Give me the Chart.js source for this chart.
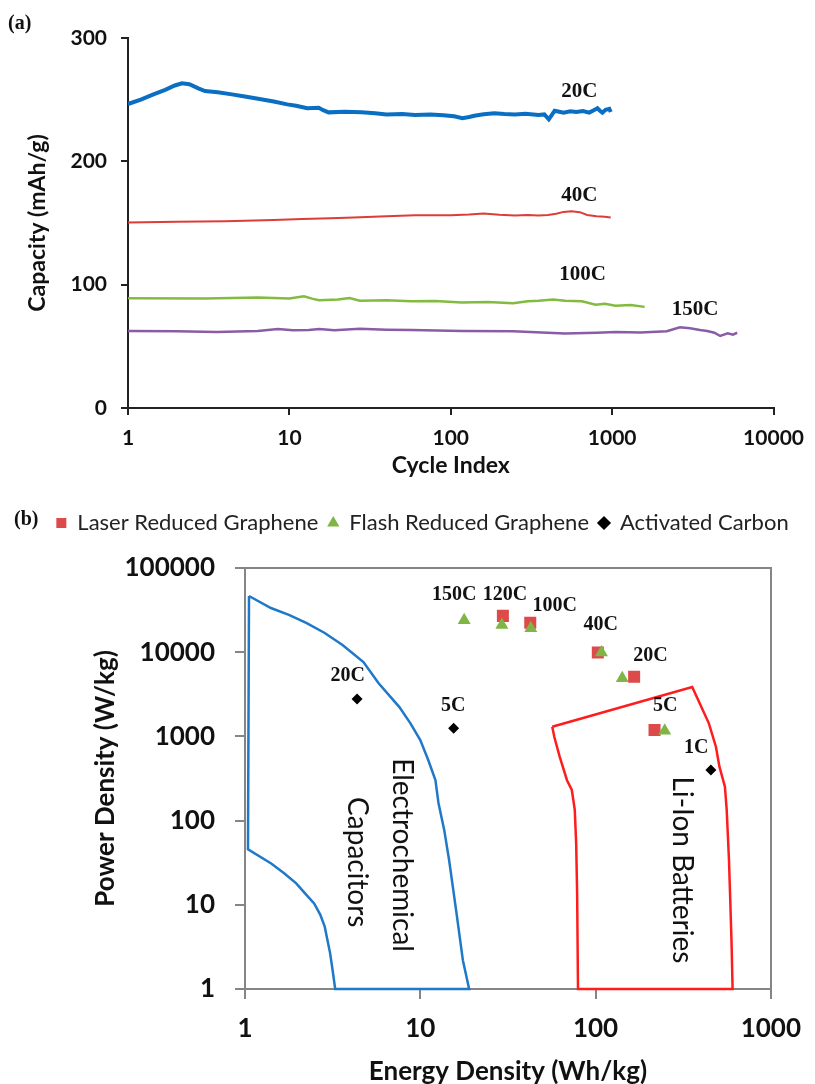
<!DOCTYPE html>
<html>
<head>
<meta charset="utf-8">
<script src="https://cdn.jsdelivr.net/npm/chart.js@4.4.0/dist/chart.umd.min.js"></script>
<style>
  html, body { margin: 0; padding: 0; background: #fff; }
  body { width: 815px; height: 1084px; position: relative; overflow: hidden; }
  .wrap { position: absolute; left: 0; width: 815px; }
  #wrapA { top: 0; height: 490px; }
  #wrapB { top: 490px; height: 594px; }
  .panel { position: absolute; font: bold 20px "Liberation Serif", serif; color: #111; }
</style>
</head>
<body>
<div class="wrap" id="wrapA"><canvas id="cycleChart" width="815" height="490"></canvas></div>
<div class="wrap" id="wrapB"><canvas id="ragoneChart" width="815" height="594"></canvas></div>
<div class="panel" style="left:8px;top:11px">(a)</div>
<div class="panel" style="left:14px;top:507px">(b)</div>
<script>
// ---- (a) capacity vs cycle index ----
const cycleTicks = [1, 10, 100, 1000, 10000];
const capTicks = [0, 100, 200, 300];

const cycles20 = [1, 1.2, 1.45, 1.7, 1.95, 2.16, 2.4, 2.75, 3.0, 3.6, 4.4, 5.3, 6.4, 8, 9.7, 11, 12.9, 15.2, 16.2, 17.5, 22, 28, 34, 40, 50, 60, 75, 90, 105, 118, 130, 140, 160, 186, 215, 250, 290, 350, 380, 405, 420, 440, 470, 500, 550, 600, 660, 720, 770, 810, 840, 870, 910, 960, 980];
const cap20 = [246.5, 250, 254.5, 258, 261.5, 263.3, 262.5, 259, 257, 256, 254.3, 252.5, 250.8, 248.5, 246.2, 245, 243, 243.5, 241.5, 239.7, 240.2, 239.7, 239, 238, 238.4, 237.6, 238, 237.4, 236.5, 235, 236, 237, 238.2, 239, 238.3, 238, 238.6, 237.5, 238, 234, 237, 241, 240.2, 239.5, 240.6, 240, 240.8, 239.5, 241.5, 243, 241, 239.5, 241.8, 242.5, 240];

const cycles40 = [1, 2, 4, 8, 12, 18, 25, 40, 60, 100, 130, 160, 200, 250, 300, 350, 400, 450, 500, 560, 630, 700, 800, 900, 980];
const cap40 = [150.5, 151, 151.5, 152.5, 153.2, 153.8, 154.5, 155.5, 156.2, 156.3, 156.8, 157.8, 156.6, 156, 156.4, 156, 156.5, 157.5, 159, 159.5, 158.8, 156.5, 155.5, 155, 154.5];

const cycles100 = [1, 3, 6.4, 10, 12.3, 14, 15.3, 20, 23.6, 27.3, 40, 57, 80, 117, 170, 243, 300, 350, 430, 510, 650, 790, 900, 1050, 1300, 1590];
const cap100 = [89, 88.8, 89.5, 88.8, 90.5, 88.5, 87.3, 88, 89.2, 87, 87.3, 86.5, 86.8, 85.5, 86, 85, 86.5, 87, 88, 87, 86.5, 83.7, 84.5, 83, 83.5, 82];

const cycles150 = [1, 2, 3.55, 6.37, 8.5, 10.5, 13.2, 15.3, 19, 27.3, 40, 57, 117, 243, 510, 800, 1050, 1500, 2180, 2630, 3040, 3500, 3880, 4300, 4670, 5200, 5600, 5950];
const cap150 = [62.4, 62.2, 61.6, 62.4, 64, 63, 63.2, 64, 63, 64.3, 63.5, 63.2, 62.4, 62.2, 60.5, 61, 61.6, 61.2, 62.2, 65.4, 64.6, 63.2, 62.4, 61, 58.4, 60.5, 59.5, 61];

// rate labels: [text, cycle, capacity]
const rateLabelsA = [['20C', 626, 256.5], ['40C', 626, 172], ['100C', 656, 107.8], ['150C', 3270, 79.5]];

// ---- (b) Ragone plot ----
const energyTicks = [1, 10, 100, 1000];
const powerTicks = [1, 10, 100, 1000, 10000, 100000];

const laserEnergy = [29.6, 42.4, 103, 166, 217];
const laserPower = [27000, 22400, 9900, 5100, 1190];
const flashEnergy = [17.8, 29.2, 42.7, 108, 142, 248];
const flashPower = [24000, 21000, 19200, 9900, 4900, 1170];
const carbonEnergy = [4.36, 15.5, 455];
const carbonPower = [2780, 1250, 400];

const capacitorEnergy = [1.054, 1.405, 1.78, 2.25, 2.85, 3.6, 4.74, 5.77, 7.6, 8.77, 10.0, 11.1, 12.2, 12.7, 13.7, 14.6, 16.0, 17.5, 19.0,
  3.27, 3.16, 3.06, 2.85, 2.69, 2.48, 2.22, 1.96, 1.665, 1.41, 1.04, 1.054];
const capacitorPower = [46500, 33500, 27700, 22200, 16900, 12200, 7650, 4300, 2230, 1440, 906, 525, 303, 162, 77, 34, 8.7, 2.2, 1.0,
  1.0, 1.68, 2.65, 5.5, 7.6, 10.4, 13.4, 18, 23.9, 31, 45.6, 46500];
const batteryEnergy = [56.6, 356, 385, 443, 486, 509, 547, 560, 577, 585, 597, 605,
  79.4, 78.5, 77.5, 76.1, 73.2, 68.7, 62.4, 58.2, 56.6];
const batteryPower = [1300, 3860, 2700, 1430, 755, 437, 253, 134, 34, 13.8, 3.5, 1,
  1, 13.7, 54, 134, 231, 302, 575, 983, 1300];

const rateLabelsB = [['150C', 15.6, 47700], ['120C', 30.4, 47700], ['100C', 58.5, 36000], ['40C', 107, 21000],
  ['20C', 206, 9000], ['5C', 250, 2290], ['1C', 375, 740], ['20C', 3.85, 5250], ['5C', 15.4, 2290]];
// rotated region names: [text, energy, power]
const regionLabels = [['Electrochemical', 7.9, 39], ['Capacitors', 4.33, 32], ['Li-Ion Batteries', 312, 25.9]];

const toXY = (xs, ys) => xs.map((v, i) => ({ x: v, y: ys[i] }));

Chart.defaults.font.family = 'Lato, "Open Sans", sans-serif';
Chart.defaults.color = '#111';
Chart.defaults.animation = false;

const textPlugin = {
  id: 'textPlugin',
  afterDatasetsDraw(chart, args, opts) {
    const { ctx } = chart;
    const x = chart.scales.x, y = chart.scales.y;
    ctx.save();
    ctx.fillStyle = '#111';
    ctx.textAlign = 'center';
    ctx.textBaseline = 'middle';
    ctx.font = opts.font;
    opts.items.forEach(([t, xv, yv]) => {
      ctx.fillText(t, x.getPixelForValue(xv), y.getPixelForValue(yv));
    });
    if (opts.rotated) {
      ctx.font = opts.rotatedFont;
      opts.rotated.forEach(([t, xv, yv]) => {
        ctx.save();
        ctx.translate(x.getPixelForValue(xv), y.getPixelForValue(yv));
        ctx.rotate(Math.PI / 2);
        ctx.fillText(t, 0, 0);
        ctx.restore();
      });
    }
    ctx.restore();
  }
};

const decadeTicks = (vals) => (scale) => { scale.ticks = vals.map(v => ({ value: v })); };

// ---- chart (a) ----
new Chart(document.getElementById('cycleChart'), {
  type: 'scatter',
  data: {
    datasets: [
      { data: toXY(cycles20, cap20), borderColor: '#0a6fc2', borderWidth: 4 },
      { data: toXY(cycles40, cap40), borderColor: '#dc3d38', borderWidth: 2 },
      { data: toXY(cycles100, cap100), borderColor: '#82bb3f', borderWidth: 2.5 },
      { data: toXY(cycles150, cap150), borderColor: '#8a5ca6', borderWidth: 2.5 },
    ].map(d => Object.assign(d, { showLine: true, pointRadius: 0, tension: 0, fill: false })),
  },
  options: {
    responsive: false,
    events: [],
    layout: { padding: { left: 0, right: 31, top: 38, bottom: 0 } },
    plugins: {
      legend: { display: false },
      tooltip: { enabled: false },
      textPlugin: { font: 'bold 21px "Liberation Serif", serif', items: rateLabelsA },
    },
    scales: {
      x: {
        type: 'logarithmic', min: 1, max: 10000,
        afterBuildTicks: decadeTicks(cycleTicks),
        afterFit: (s) => { s.height = 82; },
        ticks: { callback: (v) => String(v), font: { size: 21, weight: 'bold' }, padding: 11, maxRotation: 0, autoSkip: false },
        grid: { drawOnChartArea: false, tickLength: 7, color: '#222', lineWidth: 2 },
        border: { color: '#222', width: 2 },
        title: { display: true, text: 'Cycle Index', font: { size: 23, weight: 'bold' }, padding: { top: 0, bottom: 11 } },
      },
      y: {
        type: 'linear', min: 0, max: 300,
        afterBuildTicks: decadeTicks(capTicks),
        afterFit: (s) => { s.width = 128; },
        ticks: { font: { size: 21, weight: 'bold' }, padding: 14 },
        grid: { drawOnChartArea: false, tickLength: 7, color: '#222', lineWidth: 2 },
        border: { color: '#222', width: 2 },
        title: { display: true, text: 'Capacity (mAh/g)', font: { size: 23, weight: 'bold' }, padding: { top: 24, bottom: 0 } },
      },
    },
  },
  plugins: [textPlugin],
});

// ---- chart (b) ----
const frameGrey = '#858585';
const hiddenAxis = (pos, size) => ({
  type: 'logarithmic', position: pos, display: true,
  min: 1, max: pos === 'top' ? 1000 : 100000,
  ticks: { display: false },
  grid: { display: false },
  border: { display: true, color: frameGrey, width: 2 },
  afterFit: (s) => { if (pos === 'top') s.height = size; else s.width = size; },
});

new Chart(document.getElementById('ragoneChart'), {
  type: 'scatter',
  data: {
    datasets: [
      { label: 'Laser Reduced Graphene', data: toXY(laserEnergy, laserPower), pointStyle: 'rect', pointRadius: 8.5,
        backgroundColor: '#dd4a4a', borderColor: '#dd4a4a', borderWidth: 0, order: 2 },
      { label: 'Flash Reduced Graphene', data: toXY(flashEnergy, flashPower), pointStyle: 'triangle', pointRadius: 7.5,
        backgroundColor: '#7fb545', borderColor: '#7fb545', borderWidth: 0, order: 1 },
      { label: 'Activated Carbon', data: toXY(carbonEnergy, carbonPower), pointStyle: 'rectRot', pointRadius: 5.5,
        backgroundColor: '#000', borderColor: '#000', borderWidth: 0, order: 0 },
      { label: 'Electrochemical Capacitors', data: toXY(capacitorEnergy, capacitorPower), showLine: true, pointRadius: 0,
        borderColor: '#1f78c8', borderWidth: 2.5, tension: 0, fill: false, clip: 5, order: 3 },
      { label: 'Li-Ion Batteries', data: toXY(batteryEnergy, batteryPower), showLine: true, pointRadius: 0,
        borderColor: '#ff1c1c', borderWidth: 2.5, tension: 0, fill: false, clip: 5, order: 3 },
    ],
  },
  options: {
    responsive: false,
    events: [],
    layout: { padding: { left: 30, right: 0, top: 12, bottom: 0 } },
    plugins: {
      tooltip: { enabled: false },
      legend: {
        position: 'top',
        labels: {
          usePointStyle: true, boxWidth: 10, boxHeight: 10, padding: 10,
          font: { size: 22 }, color: '#222',
          filter: (item) => item.datasetIndex < 3,
          sort: (a, b) => a.datasetIndex - b.datasetIndex,
        },
      },
      textPlugin: {
        font: 'bold 20px "Liberation Serif", serif', items: rateLabelsB,
        rotatedFont: '28px Lato, sans-serif', rotated: regionLabels,
      },
    },
    scales: {
      x: {
        type: 'logarithmic', min: 1, max: 1000,
        afterBuildTicks: decadeTicks(energyTicks),
        afterFit: (s) => { s.height = 95; },
        ticks: { callback: (v) => String(v), font: { size: 26, weight: 'bold' }, padding: 14, maxRotation: 0, autoSkip: false },
        grid: { drawOnChartArea: false, tickLength: 10, color: frameGrey, lineWidth: 2 },
        border: { color: frameGrey, width: 2 },
        title: { display: true, text: 'Energy Density (Wh/kg)', font: { size: 26, weight: 'bold' }, padding: { top: 0, bottom: -3 } },
      },
      y: {
        type: 'logarithmic', min: 1, max: 100000,
        afterBuildTicks: decadeTicks(powerTicks),
        afterFit: (s) => { s.width = 215; },
        ticks: { callback: (v) => String(v), font: { size: 26, weight: 'bold' }, padding: 20 },
        grid: { drawOnChartArea: false, tickLength: 10, color: frameGrey, lineWidth: 2 },
        border: { color: frameGrey, width: 2 },
        title: { display: true, text: 'Power Density (W/kg)', font: { size: 26, weight: 'bold' }, padding: { top: 60, bottom: 0 } },
      },
      x2: hiddenAxis('top', 24),
      y2: hiddenAxis('right', 42),
    },
  },
  plugins: [textPlugin],
});
</script>
</body>
</html>
